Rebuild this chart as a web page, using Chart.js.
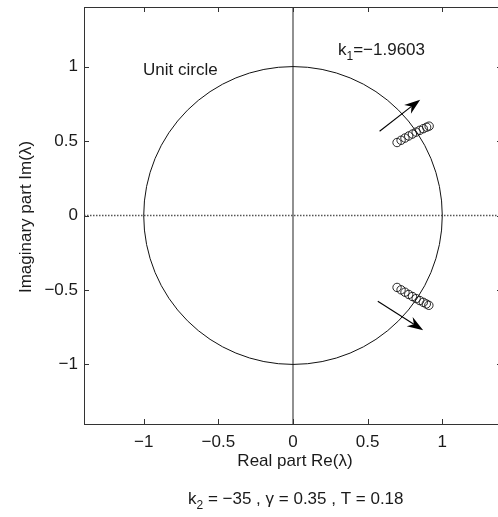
<!DOCTYPE html>
<html>
<head>
<meta charset="utf-8">
<script src="https://cdn.jsdelivr.net/npm/chart.js@4.4.1/dist/chart.umd.min.js"></script>
<style>
  html, body { margin: 0; padding: 0; background: #fff; }
  #wrap { width: 498px; height: 517px; overflow: hidden; position: relative; }
  canvas { position: absolute; left: 0; top: 0; }
</style>
</head>
<body>
<div id="wrap"><canvas id="rootLocus" width="510" height="517"></canvas></div>
<script>
// axis setup
const xRange = [-1.4, 1.4];
const yRange = [-1.4, 1.4];
const xTicks = [-1, -0.5, 0, 0.5, 1];
const yTicks = [-1, -0.5, 0, 0.5, 1];

// eigenvalue branches (complex-conjugate pair)
const upperRe = [0.697, 0.724, 0.750, 0.775, 0.800, 0.825, 0.849, 0.873, 0.895, 0.912];
const upperIm = [0.490, 0.505, 0.520, 0.534, 0.547, 0.560, 0.572, 0.583, 0.593, 0.600];
const lowerRe = [0.697, 0.724, 0.750, 0.775, 0.800, 0.825, 0.849, 0.873, 0.893, 0.910];
const lowerIm = [-0.483, -0.499, -0.515, -0.530, -0.544, -0.558, -0.571, -0.583, -0.594, -0.603];

// direction arrows: [tailRe, tailIm, tipRe, tipIm]
const arrows = [
  [0.580, 0.566, 0.852, 0.778],
  [0.568, -0.576, 0.872, -0.770]
];

const unitRadius = 1;
const FONT = '"Liberation Sans", Arial, sans-serif';
const INK = '#1a1a1a';

const toPoints = (re, im) => re.map((r, i) => ({ x: r, y: im[i] }));
const fmtTick = v => String(v).replace('-', '\u2212');

// text with subscripts: parts = [{t, sub}]
function drawRich(ctx, parts, x, y) {
  let cx = x;
  parts.forEach(p => {
    ctx.font = p.sub ? `12px ${FONT}` : `17px ${FONT}`;
    ctx.fillText(p.t, cx, p.sub ? y + 5 : y);
    cx += ctx.measureText(p.t).width;
  });
}

function drawArrow(ctx, x0, y0, x1, y1) {
  const ang = Math.atan2(y1 - y0, x1 - x0);
  const len = 16, half = 5.5, notch = 11;
  ctx.beginPath();
  ctx.moveTo(x0, y0);
  ctx.lineTo(x1 - Math.cos(ang) * notch, y1 - Math.sin(ang) * notch);
  ctx.stroke();
  const bx = x1 - Math.cos(ang) * len, by = y1 - Math.sin(ang) * len;
  const nx = -Math.sin(ang), ny = Math.cos(ang);
  ctx.beginPath();
  ctx.moveTo(x1, y1);
  ctx.lineTo(bx + nx * half, by + ny * half);
  ctx.lineTo(x1 - Math.cos(ang) * notch, y1 - Math.sin(ang) * notch);
  ctx.lineTo(bx - nx * half, by - ny * half);
  ctx.closePath();
  ctx.fill();
}

const figureExtras = {
  id: 'figureExtras',
  beforeDatasetsDraw(chart) {
    const { ctx, chartArea: a, scales: { x, y } } = chart;
    const cx = x.getPixelForValue(0), cy = y.getPixelForValue(0);
    ctx.save();
    // zero axes
    ctx.strokeStyle = '#555';
    ctx.lineWidth = 1.3;
    ctx.beginPath();
    ctx.moveTo(cx, a.top);
    ctx.lineTo(cx, a.bottom);
    ctx.stroke();
    ctx.setLineDash([1.5, 1.5]);
    ctx.beginPath();
    ctx.moveTo(a.left, cy);
    ctx.lineTo(a.right, cy);
    ctx.stroke();
    ctx.setLineDash([]);
    // unit circle
    const rx = x.getPixelForValue(unitRadius) - cx;
    const ry = cy - y.getPixelForValue(unitRadius);
    ctx.strokeStyle = '#111';
    ctx.lineWidth = 1;
    ctx.beginPath();
    ctx.ellipse(cx, cy, rx, ry, 0, 0, Math.PI * 2);
    ctx.stroke();
    ctx.restore();
  },
  afterDatasetsDraw(chart) {
    const { ctx, chartArea: a, scales: { x, y } } = chart;
    ctx.save();
    // frame with inward ticks
    ctx.strokeStyle = '#333';
    ctx.lineWidth = 1;
    ctx.strokeRect(a.left + 0.5, a.top + 0.5, a.right - a.left, a.bottom - a.top);
    ctx.beginPath();
    xTicks.forEach(v => {
      const px = Math.round(x.getPixelForValue(v)) + 0.5;
      ctx.moveTo(px, a.bottom); ctx.lineTo(px, a.bottom - 5);
      ctx.moveTo(px, a.top); ctx.lineTo(px, a.top + 5);
    });
    yTicks.forEach(v => {
      const py = Math.round(y.getPixelForValue(v)) + 0.5;
      ctx.moveTo(a.left, py); ctx.lineTo(a.left + 5, py);
      ctx.moveTo(a.right, py); ctx.lineTo(a.right - 5, py);
    });
    ctx.stroke();

    // arrows
    ctx.strokeStyle = '#000';
    ctx.fillStyle = '#000';
    ctx.lineWidth = 1.1;
    arrows.forEach(([r0, i0, r1, i1]) => {
      drawArrow(ctx, x.getPixelForValue(r0), y.getPixelForValue(i0),
        x.getPixelForValue(r1), y.getPixelForValue(i1));
    });

    // labels
    ctx.fillStyle = INK;
    ctx.textAlign = 'left';
    ctx.textBaseline = 'alphabetic';
    drawRich(ctx, [{ t: 'Unit circle' }], 143, 75);
    drawRich(ctx, [{ t: 'k' }, { t: '1', sub: true }, { t: '=\u22121.9603' }], 338, 55);
    drawRich(ctx, [{ t: 'k' }, { t: '2', sub: true }, { t: ' = \u221235 , \u03b3 = 0.35 , T = 0.18' }], 188, 504);

    ctx.font = `17px ${FONT}`;
    ctx.textAlign = 'center';
    ctx.fillText('Real part Re(\u03bb)', 295, 466);
    ctx.translate(31, 217);
    ctx.rotate(-Math.PI / 2);
    ctx.fillText('Imaginary part Im(\u03bb)', 0, 0);
    ctx.restore();
  }
};

const markerStyle = {
  showLine: false,
  pointStyle: 'circle',
  pointRadius: 4.2,
  pointBorderWidth: 0.9,
  pointBorderColor: '#111',
  pointBackgroundColor: 'rgba(0,0,0,0)'
};

new Chart(document.getElementById('rootLocus'), {
  type: 'scatter',
  data: {
    datasets: [
      { label: 'upper', data: toPoints(upperRe, upperIm), ...markerStyle },
      { label: 'lower', data: toPoints(lowerRe, lowerIm), ...markerStyle }
    ]
  },
  options: {
    responsive: false,
    animation: false,
    devicePixelRatio: 1,
    layout: { padding: { top: 7, right: 8, left: 0, bottom: 0 } },
    plugins: { legend: { display: false }, tooltip: { enabled: false } },
    scales: {
      x: {
        type: 'linear',
        min: xRange[0],
        max: xRange[1],
        afterBuildTicks: s => { s.ticks = xTicks.map(v => ({ value: v })); },
        afterFit: s => { s.height = 93; s.paddingLeft = 0; s.paddingRight = 0; },
        grid: { display: false, drawTicks: false },
        border: { display: false },
        ticks: {
          padding: 8,
          color: INK,
          font: { family: FONT, size: 17 },
          callback: fmtTick,
          maxRotation: 0
        }
      },
      y: {
        type: 'linear',
        min: yRange[0],
        max: yRange[1],
        afterBuildTicks: s => { s.ticks = yTicks.map(v => ({ value: v })); },
        afterFit: s => { s.width = 84; s.paddingTop = 0; s.paddingBottom = 0; },
        grid: { display: false, drawTicks: false },
        border: { display: false },
        ticks: {
          padding: 6,
          color: INK,
          font: { family: FONT, size: 17 },
          callback: fmtTick
        }
      }
    }
  },
  plugins: [figureExtras]
});
</script>
</body>
</html>
